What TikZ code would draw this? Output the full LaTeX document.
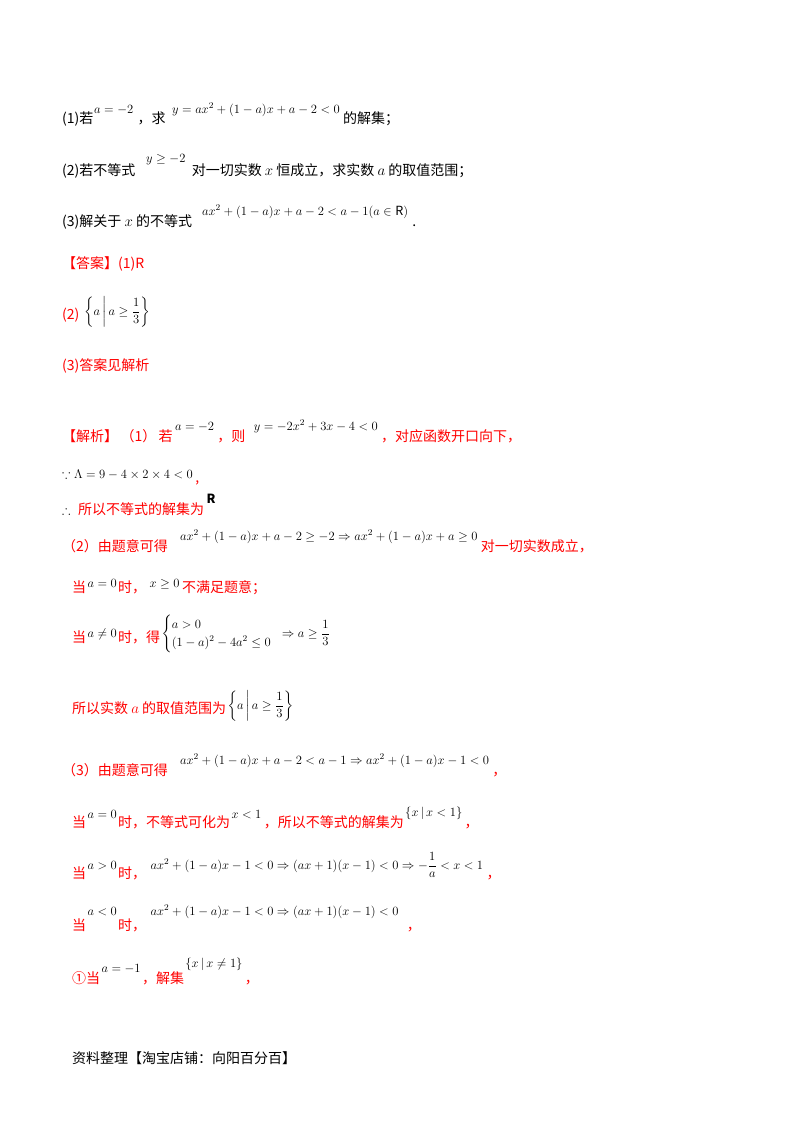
\documentclass[tikz,border=0pt]{standalone}
\usepackage{fix-cm}
\usepackage{fontspec}
\usepackage{amsmath,amssymb}
\setmainfont{Noto Sans CJK SC}
\definecolor{rd}{RGB}{255,0,0}
\newcommand\mm[1]{{\fontsize{12.6}{15}\selectfont\color{black}$#1$}}
\newcommand\iv[1]{{\fontsize{15}{16}\selectfont$#1$}}
\begin{document}
\begin{tikzpicture}[x=1pt,y=-1pt,
  t/.style={anchor=base west,inner sep=0pt,font=\fontsize{14}{16}\selectfont},
  r/.style={t,text=rd}]
\useasboundingbox[fill=white] (0,0) rectangle (800,1132);
% question
\node[t] (q1a) at (62,123) {(1)若};
\node[t] (q1b) at (94,113) {\mm{a=-2}};
\node[t] (q1c) at ([xshift=4]q1b.east |- 0,123) {，求};
\node[t] (q1d) at (172,113) {\mm{y=ax^2+(1-a)x+a-2<0}};
\node[t] (q1e) at ([xshift=3]q1d.east |- 0,123) {的解集；};
\node[t] (q2a) at (62,175) {(2)若不等式};
\node[t] (q2b) at (146,162) {\mm{y\ge -2}};
\node[t] (q2c) at ([xshift=6]q2b.east |- 0,175) {对一切实数 \iv{x} 恒成立，求实数 \iv{a} 的取值范围；};
\node[t] (q3a) at (62,226) {(3)解关于 \iv{x} 的不等式};
\node[t] (q3b) at (202,215) {\mm{ax^2+(1-a)x+a-2<a-1(a\in \mathrm{R})}};
\node[t] (q3c) at ([xshift=4]q3b.east |- 0,226) {.};
% answer
\node[r] (ans1) at (62,268) {【答案】(1)R};
\node[r] (ans2) at (62,319) {(2)};
\node[t] (ans2m) at (84,315) {\mm{\left\{a\,\middle|\,a\ge\dfrac13\right\}}};
\node[r] (ans3) at (62,370) {(3)答案见解析};
% analysis
\node[r] (s1a) at (62,441) {【解析】\,（1）\,若};
\node[t] (s1b) at ([xshift=2]s1a.east |- 0,430) {\mm{a=-2}};
\node[r] (s1c) at ([xshift=3]s1b.east |- 0,441) {，则};
\node[t] (s1d) at ([xshift=8]s1c.east |- 0,430) {\mm{y=-2x^2+3x-4<0}};
\node[r] (s1e) at ([xshift=3]s1d.east |- 0,441) {，对应函数开口向下，};
\node[t] (s2a) at (62,478) {\mm{\because \Lambda=9-4\times2\times4<0}};
\node[r] (s2b) at ([xshift=2]s2a.east |- 0,482) {,};
\node[t] (s3a) at (62,514) {\mm{\therefore}};
\node[r] (s3b) at (78,514) {所以不等式的解集为};
\node[t] (s3c) at ([xshift=2]s3b.east |- 0,503) {\mm{\mathbf{R}}};
\node[r] (s4a) at (62,551) {（2）由题意可得};
\node[t] (s4b) at (180,540) {\mm{ax^2+(1-a)x+a-2\ge-2\Rightarrow ax^2+(1-a)x+a\ge0}};
\node[r] (s4c) at ([xshift=3]s4b.east |- 0,551) {对一切实数成立，};
\node[r] (s5a) at (72,592) {当};
\node[t] (s5b) at ([xshift=1]s5a.east |- 0,587) {\mm{a=0}};
\node[r] (s5c) at ([xshift=1]s5b.east |- 0,592) {时，};
\node[t] (s5d) at ([xshift=3]s5c.east |- 0,587) {\mm{x\ge0}};
\node[r] (s5e) at ([xshift=2]s5d.east |- 0,592) {不满足题意；};
\node[r] (s6a) at (72,642) {当};
\node[t] (s6b) at ([xshift=1]s6a.east |- 0,637) {\mm{a\ne0}};
\node[r] (s6c) at ([xshift=1]s6b.east |- 0,642) {时，得};
\node[t] (s6d) at ([xshift=1]s6c.east |- 0,637) {\mm{\begin{cases}a>0\\(1-a)^2-4a^2\le0\end{cases}\!\!\!\Rightarrow a\ge\dfrac13}};
\node[r] (s7a) at (72,713) {所以实数 \iv{a} 的取值范围为};
\node[t] (s7b) at ([xshift=1]s7a.east |- 0,709) {\mm{\left\{a\,\middle|\,a\ge\dfrac13\right\}}};
\node[r] (s8a) at (62,775) {（3）由题意可得};
\node[t] (s8b) at (180,764) {\mm{ax^2+(1-a)x+a-2<a-1\Rightarrow ax^2+(1-a)x-1<0}};
\node[r] (s8c) at ([xshift=3]s8b.east |- 0,775) {，};
\node[r] (s9a) at (72,827) {当};
\node[t] (s9b) at ([xshift=1]s9a.east |- 0,818) {\mm{a=0}};
\node[r] (s9c) at ([xshift=1]s9b.east |- 0,827) {时，不等式可化为};
\node[t] (s9d) at ([xshift=1]s9c.east |- 0,818) {\mm{x<1}};
\node[r] (s9e) at ([xshift=2]s9d.east |- 0,827) {，所以不等式的解集为};
\node[t] (s9f) at ([xshift=1]s9e.east |- 0,816) {\mm{\{x\,|\,x<1\}}};
\node[r] (s9g) at ([xshift=2]s9f.east |- 0,827) {，};
\node[r] (s10a) at (72,878) {当};
\node[t] (s10b) at ([xshift=1]s10a.east |- 0,869) {\mm{a>0}};
\node[r] (s10c) at ([xshift=1]s10b.east |- 0,878) {时，};
\node[t] (s10d) at ([xshift=4]s10c.east |- 0,869) {\mm{ax^2+(1-a)x-1<0\Rightarrow(ax+1)(x-1)<0\Rightarrow-\dfrac1a<x<1}};
\node[r] (s10e) at ([xshift=3]s10d.east |- 0,878) {，};
\node[r] (s11a) at (72,930) {当};
\node[t] (s11b) at ([xshift=1]s11a.east |- 0,915) {\mm{a<0}};
\node[r] (s11c) at ([xshift=1]s11b.east |- 0,930) {时，};
\node[t] (s11d) at ([xshift=4]s11c.east |- 0,915) {\mm{ax^2+(1-a)x-1<0\Rightarrow(ax+1)(x-1)<0}};
\node[r] (s11e) at ([xshift=8]s11d.east |- 0,930) {，};
\node[r] (s12a) at (72,983) {①当};
\node[t] (s12b) at ([xshift=1]s12a.east |- 0,972) {\mm{a=-1}};
\node[r] (s12c) at ([xshift=1]s12b.east |- 0,983) {，解集};
\node[t] (s12d) at ([xshift=1]s12c.east |- 0,967) {\mm{\{x\,|\,x\ne1\}}};
\node[r] (s12e) at ([xshift=2]s12d.east |- 0,983) {，};
\node[t] (foot) at (72,1063) {资料整理【淘宝店铺：向阳百分百】};
\end{tikzpicture}
\end{document}
